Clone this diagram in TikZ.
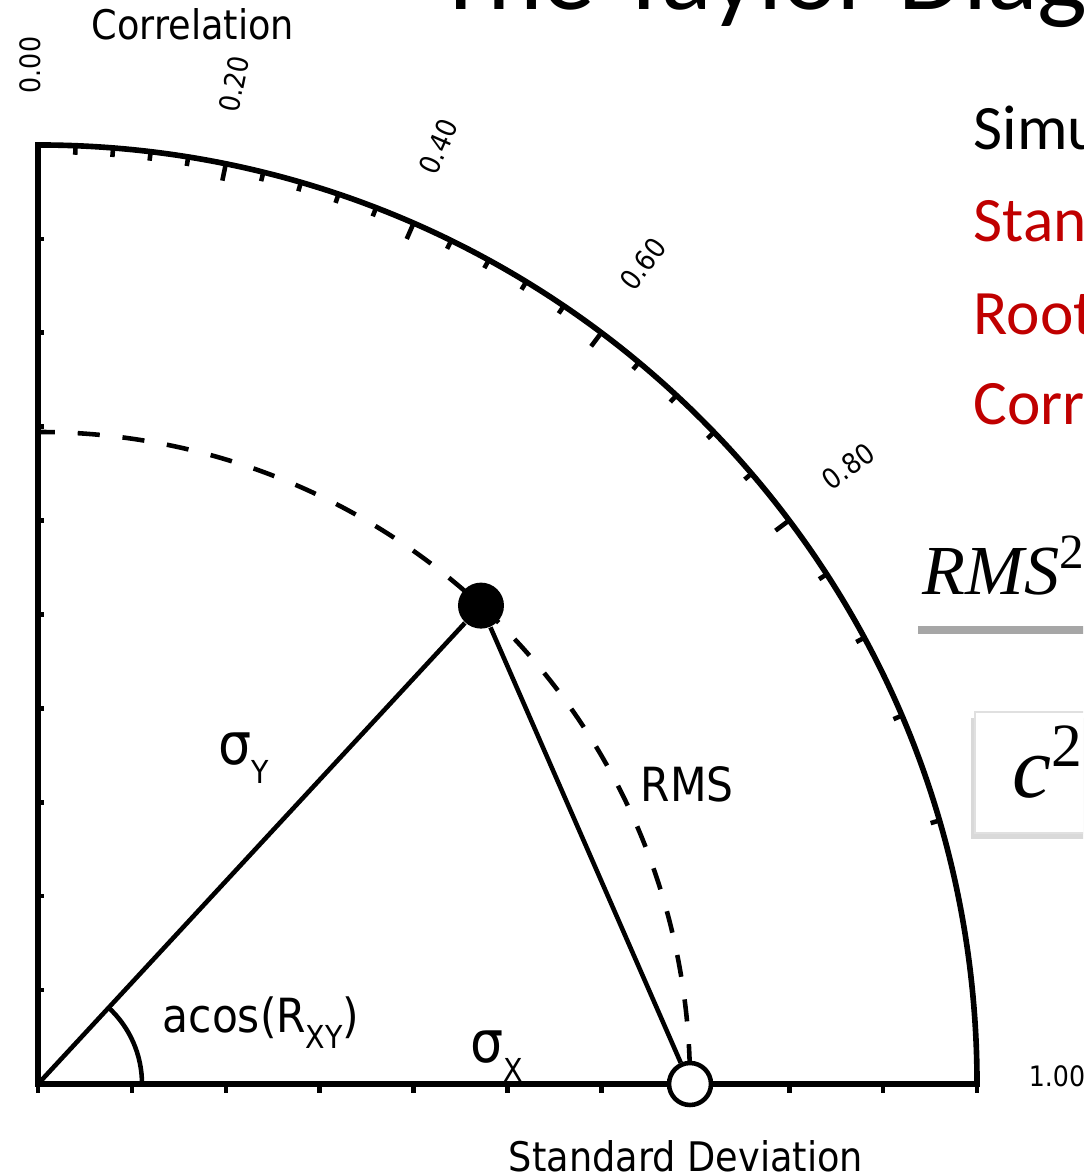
\documentclass[tikz,border=0pt]{standalone}
\usepackage{fontspec}
\setmainfont{DejaVu Sans}
\newfontfamily\plotfont[FakeStretch=0.9]{DejaVu Sans}
\newfontfamily\slidefont{Carlito}
\newfontfamily\eqfont{Liberation Serif}
\usetikzlibrary{shadows}
\definecolor{slidered}{HTML}{C00000}
\definecolor{rulegray}{HTML}{A6A6A6}
\newcommand\lowtxt[1]{\raisebox{-0.32em}{\fontsize{9}{10}\selectfont #1}}

\begin{document}
\begin{tikzpicture}[
axis/.style={line width=1.6pt,line join=miter},
tickmark/.style={line width=1.3pt},
link/.style={line width=1.3pt},
rmsarc/.style={line width=1.3pt,dash pattern=on 6.3pt off 6.5pt,dash phase=1.5pt},
dotfill/.style={circle,fill=black,minimum size=0.46cm,inner sep=0pt},
dotopen/.style={circle,draw=black,fill=white,line width=1.3pt,minimum size=0.42cm,inner sep=0pt},
ticklabel/.style={font=\plotfont\fontsize{8}{9}\selectfont,inner sep=0pt},
axistitle/.style={font=\plotfont\fontsize{11.6}{14}\selectfont,inner sep=0pt,anchor=base},
plotlabel/.style={font=\plotfont\fontsize{13.4}{16}\selectfont,inner sep=0pt,anchor=base west},
sigmalabel/.style={font=\plotfont\fontsize{16.5}{18}\selectfont,inner sep=0pt,anchor=base west},
slidetext/.style={font=\slidefont\fontsize{18}{22}\selectfont,inner sep=0pt,anchor=base west},
eqtext/.style={font=\eqfont\itshape,inner sep=0pt,anchor=base west},
eqframe/.style={draw=black!12,fill=white,line width=0.5pt,
  drop shadow={shadow xshift=-0.04cm,shadow yshift=-0.06cm,opacity=0.15,fill=black}} ]

\useasboundingbox (-0.38,-0.92) rectangle (10.45,10.84);
\clip (-0.38,-0.92) rectangle (10.45,10.84);

\draw[axis] (0,0) -- (9.39,0) arc[start angle=0,end angle=90,radius=9.39] -- cycle;

\foreach \k in {1,...,9}
  \draw[tickmark] (0,0.939*\k) -- ++(0.06,0);
\foreach \k in {0,...,10}
  \draw[tickmark] (0.939*\k,0) -- ++(0,-0.09);
\foreach \k in {1,...,24} {
  \pgfmathsetmacro\ang{acos(0.04*\k)}
  \pgfmathsetmacro\len{ifthenelse(mod(\k,5)==0,0.17,0.09)}
  \draw[tickmark] (\ang:9.39) -- (\ang:{9.39-\len});
}
\foreach \c in {0.00,0.20,0.40,0.60,0.80,1.00} {
  \pgfmathsetmacro\ang{acos(\c)}
  \node[ticklabel,rotate=\ang] at (\ang+0.45:10.19) {\c};
}

\node[axistitle] (corr) at (1.55,10.44) {Correlation};
\node[axistitle] (sdev) at (6.48,-0.88) {Standard Deviation};

\draw[rmsarc] (0,6.52) arc[start angle=90,end angle=0,radius=6.52];

\coordinate (O) at (0,0);
\node[dotfill] (Y) at (47.2:6.52) {};
\node[dotopen] (X) at (6.52,0) {};

\draw[link] (O) -- (Y);
\draw[link] (Y) -- (X);
\draw[link] (1.04,0) arc[start angle=0,end angle=47.2,radius=1.04];

\node[sigmalabel] (sy) at (1.80,3.19) {σ\lowtxt{Y}};
\node[sigmalabel] (sx) at (4.32,0.21) {σ\lowtxt{X}};
\node[plotlabel] (ang) at (1.24,0.51) {acos(R\lowtxt{XY})};
\node[plotlabel] (rms) at (6.02,2.82) {RMS};

\node[slidetext,font=\slidefont\fontsize{30}{36}\selectfont] (title) at (3.97,10.74) {The Taylor Diag};
\node[slidetext] (sim) at (9.35,9.34) {Simu};
\node[slidetext,slidered] (std) at (9.35,8.42) {Stan};
\node[slidetext,slidered] (root) at (9.35,7.49) {Root};
\node[slidetext,slidered] (cor) at (9.35,6.59) {Corr};

\node[eqtext,font=\eqfont\itshape\fontsize{20}{24}\selectfont] (rmsq) at (8.84,4.89) {RMS\textsuperscript{\upshape 2}};
\draw[rulegray,line width=0.08cm] (8.80,4.54) -- (10.6,4.54);
\draw[eqframe] (9.37,2.51) rectangle (10.8,3.72);
\node[eqtext,font=\eqfont\itshape\fontsize{25}{30}\selectfont] (csq) at (9.74,2.86) {c\textsuperscript{\upshape 2}};

\end{tikzpicture}
\end{document}
